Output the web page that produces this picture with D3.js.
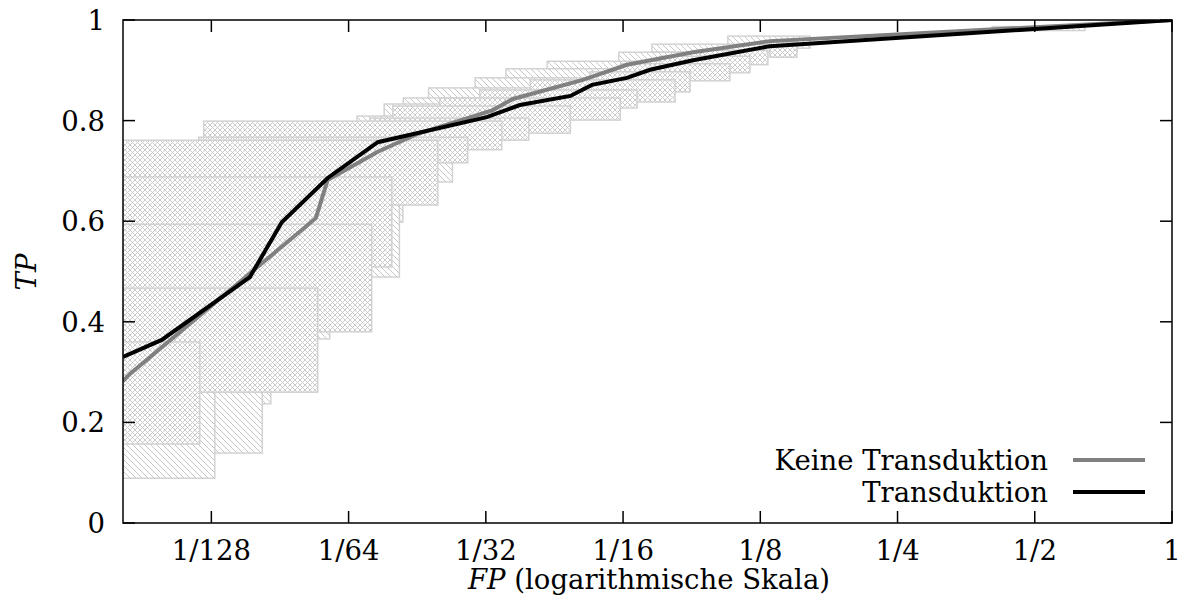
<!DOCTYPE html>
<html>
<head>
<meta charset="utf-8">
<script src="https://cdn.jsdelivr.net/npm/d3@7"></script>
<style>
  body { margin: 0; background: #fff; }
  svg text { font-family: "DejaVu Serif", "Liberation Serif", serif; }
</style>
</head>
<body>
<svg id="chart" width="1181" height="598"></svg>
<script>
// ROC curves, FP on a log2 axis
const fpTicks = [1/128, 1/64, 1/32, 1/16, 1/8, 1/4, 1/2, 1];
const fpTickLabels = ["1/128", "1/64", "1/32", "1/16", "1/8", "1/4", "1/2", "1"];
const tpTicks = [0, 0.2, 0.4, 0.6, 0.8, 1];
const tpTickLabels = ["0", "0.2", "0.4", "0.6", "0.8", "1"];

const seriesNames = ["Keine Transduktion", "Transduktion"];

// Keine Transduktion (grey)
const keineFP = [0.005, 0.00517, 0.01324, 0.01406, 0.01811, 0.02205, 0.03238, 0.03582, 0.05102, 0.06372, 0.0890, 0.1312, 1];
const keineTP = [0.282, 0.296, 0.606, 0.682, 0.738, 0.773, 0.821, 0.843, 0.881, 0.911, 0.936, 0.958, 1];

// Transduktion (black)
const transFP = [0.005, 0.00608, 0.00949, 0.01115, 0.01406, 0.01811, 0.0314, 0.03712, 0.0479, 0.05341, 0.06372, 0.0716, 0.0890, 0.1312, 1];
const transTP = [0.330, 0.364, 0.489, 0.598, 0.686, 0.757, 0.807, 0.831, 0.849, 0.871, 0.885, 0.901, 0.920, 0.948, 1];

// confidence boxes: [fpLow, fpHigh, tpLow, tpHigh]
const keineBoxes = [
  [0.0050, 0.00795, 0.089, 0.360],
  [0.0050, 0.0101, 0.139, 0.463],
  [0.0050, 0.01055, 0.237, 0.543],
  [0.00602, 0.0142, 0.366, 0.642],
  [0.00857, 0.0202, 0.489, 0.702],
  [0.0122, 0.02055, 0.598, 0.761],
  [0.0163, 0.0264, 0.678, 0.809],
  [0.0187, 0.0339, 0.765, 0.833],
  [0.0206, 0.0438, 0.795, 0.845],
  [0.0234, 0.0475, 0.813, 0.865],
  [0.0296, 0.0620, 0.837, 0.885],
  [0.0346, 0.0671, 0.857, 0.903],
  [0.0426, 0.0877, 0.897, 0.918],
  [0.0612, 0.1186, 0.915, 0.936],
  [0.0723, 0.1504, 0.936, 0.952],
  [0.1061, 0.1607, 0.944, 0.968],
  [0.403, 0.644, 0.979, 0.987]
];
const transBoxes = [
  [0.0050, 0.00737, 0.157, 0.360],
  [0.0050, 0.01337, 0.260, 0.467],
  [0.0050, 0.01756, 0.380, 0.594],
  [0.0050, 0.01944, 0.509, 0.688],
  [0.0050, 0.02452, 0.632, 0.761],
  [0.00733, 0.02853, 0.716, 0.767],
  [0.00752, 0.03388, 0.742, 0.799],
  [0.01739, 0.03883, 0.761, 0.805],
  [0.01953, 0.0479, 0.775, 0.829],
  [0.02476, 0.06165, 0.801, 0.845],
  [0.0303, 0.0671, 0.825, 0.861],
  [0.0391, 0.0813, 0.837, 0.881],
  [0.0529, 0.0877, 0.857, 0.897],
  [0.0617, 0.1072, 0.879, 0.913],
  [0.0753, 0.1186, 0.895, 0.928],
  [0.0921, 0.1299, 0.911, 0.940],
  [0.1312, 0.1504, 0.926, 0.956]
];

const margin = {left: 123, right: 9, top: 20, bottom: 75};
const W = 1181, H = 598;
const svg = d3.select("#chart");

const x = d3.scaleLog().base(2).domain([0.005, 1]).range([margin.left, W - margin.right]);
const y = d3.scaleLinear().domain([0, 1]).range([H - margin.bottom, margin.top]);

const defs = svg.append("defs");
defs.append("clipPath").attr("id", "plotclip")
  .append("rect")
  .attr("x", margin.left).attr("y", margin.top)
  .attr("width", x.range()[1] - margin.left).attr("height", y.range()[0] - margin.top);

const hatchCol = "#c6c6c6";
// single diagonal hatch "\\\" (opaque, white ground)
const pDiag = defs.append("pattern").attr("id", "diag")
  .attr("patternUnits", "userSpaceOnUse").attr("width", 6).attr("height", 6);
pDiag.append("rect").attr("width", 6).attr("height", 6).attr("fill", "#fff");
pDiag.append("path").attr("d", "M-1,-1L7,7M-1,5L1,7M5,-1L7,1")
  .attr("stroke", hatchCol).attr("stroke-width", 1).attr("fill", "none");
// cross hatch
const pCross = defs.append("pattern").attr("id", "cross")
  .attr("patternUnits", "userSpaceOnUse").attr("width", 5).attr("height", 5);
pCross.append("rect").attr("width", 5).attr("height", 5).attr("fill", "#fff");
pCross.append("path").attr("d", "M-1,-1L6,6M-1,4L1,6M4,-1L6,1M-1,6L6,-1M-1,1L1,-1M4,6L6,4")
  .attr("stroke", hatchCol).attr("stroke-width", 0.9).attr("fill", "none");

const plot = svg.append("g").attr("clip-path", "url(#plotclip)");

// boxes are painted from the upper right down to the lower left, each one covering the last
function drawBoxes(boxes, pat) {
  plot.append("g").selectAll("rect").data(boxes.slice().reverse()).enter().append("rect")
    .attr("x", d => x(d[0]))
    .attr("y", d => y(d[3]))
    .attr("width", d => x(d[1]) - x(d[0]))
    .attr("height", d => y(d[2]) - y(d[3]))
    .attr("fill", `url(#${pat})`)
    .attr("stroke", "#d0d0d0")
    .attr("stroke-width", 1.4);
}
drawBoxes(keineBoxes, "diag");
drawBoxes(transBoxes, "cross");

const line = d3.line().x(d => x(d[0])).y(d => y(d[1]));
const keinePts = keineFP.map((v, i) => [v, keineTP[i]]);
const transPts = transFP.map((v, i) => [v, transTP[i]]);

plot.append("path").datum(keinePts).attr("d", line)
  .attr("fill", "none").attr("stroke", "#808080").attr("stroke-width", 4);
plot.append("path").datum(transPts).attr("d", line)
  .attr("fill", "none").attr("stroke", "#000").attr("stroke-width", 4);

// frame + ticks (mirrored, inward)
const x0 = margin.left, x1 = x.range()[1], yb = y(0), yt = y(1);
const tickLen = 12;
const axes = svg.append("g").attr("stroke", "#000").attr("stroke-width", 1.5);
fpTicks.forEach(t => {
  axes.append("line").attr("x1", x(t)).attr("x2", x(t)).attr("y1", yb).attr("y2", yb - tickLen);
  axes.append("line").attr("x1", x(t)).attr("x2", x(t)).attr("y1", yt).attr("y2", yt + tickLen);
});
tpTicks.forEach(t => {
  axes.append("line").attr("x1", x0).attr("x2", x0 + tickLen).attr("y1", y(t)).attr("y2", y(t));
  axes.append("line").attr("x1", x1).attr("x2", x1 - tickLen).attr("y1", y(t)).attr("y2", y(t));
});
axes.append("rect").attr("x", x0).attr("y", yt).attr("width", x1 - x0).attr("height", yb - yt).attr("fill", "none");

const fs = 27.5;
svg.append("g").selectAll("text").data(fpTicks).enter().append("text")
  .attr("x", d => x(d)).attr("y", yb + 37)
  .attr("text-anchor", "middle").attr("font-size", fs)
  .text((d, i) => fpTickLabels[i]);
svg.append("g").selectAll("text").data(tpTicks).enter().append("text")
  .attr("x", x0 - 18).attr("y", d => y(d) + 10)
  .attr("text-anchor", "end").attr("font-size", fs)
  .text((d, i) => tpTickLabels[i]);

// axis titles
const xt = svg.append("text").attr("x", 649).attr("y", 589).attr("text-anchor", "middle").attr("font-size", fs);
xt.append("tspan").attr("font-style", "italic").text("FP");
xt.append("tspan").text(" (logarithmische Skala)");
svg.append("text").attr("transform", "translate(36,272) rotate(-90)")
  .attr("text-anchor", "middle").attr("font-size", fs).attr("font-style", "italic").text("TP");

// legend
const legend = svg.append("g");
const legCols = ["#808080", "#000"];
seriesNames.forEach((n, i) => {
  const ly = 460 + i * 32;
  legend.append("text").attr("x", 1048).attr("y", ly + 10).attr("text-anchor", "end").attr("font-size", fs).text(n);
  legend.append("line").attr("x1", 1073).attr("x2", 1145).attr("y1", ly).attr("y2", ly)
    .attr("stroke", legCols[i]).attr("stroke-width", 4);
});
</script>
</body>
</html>
